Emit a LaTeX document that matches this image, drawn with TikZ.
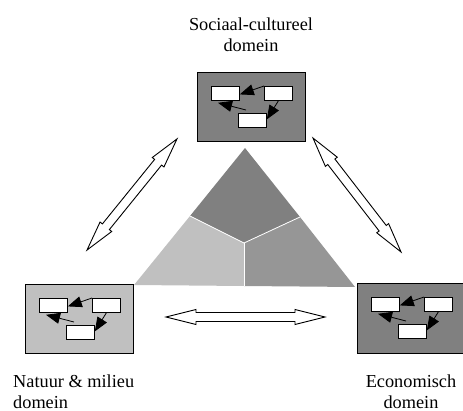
\documentclass[tikz,border=0pt]{standalone}
\usepackage{fontspec}
\setmainfont{Liberation Serif}
\usetikzlibrary{arrows.meta,calc}

\definecolor{domdark}{HTML}{808080}
\definecolor{domlight}{HTML}{C0C0C0}
\definecolor{dommid}{HTML}{969696}

\tikzset{
  domainbox/.style={draw=black, line width=1.2pt},
  minibox/.style={draw=black, fill=white, line width=0.8pt, minimum width=28pt,
    minimum height=14pt, inner sep=0pt, anchor=north west},
  minilink/.style={line width=0.8pt, arrows={-Triangle[length=14pt,width=11pt]}},
  hollow/.style={draw=black, fill=white, line width=0.9pt, line join=miter},
  label/.style={font=\fontsize{18.3}{21.5}\selectfont, inner sep=0pt},
  region/.style={draw=white, line width=0.8pt, line join=miter},
  pics/minimodel/.style={code={
    \node[minibox] (-a) at (14,14) {};
    \node[minibox] (-b) at (67,14) {};
    \node[minibox] (-c) at (41,41) {};
    \draw[minilink] (-b.north west) -- ([yshift=-1pt]-a.east);
    \draw[minilink] ([xshift=8pt,yshift=3pt]-c.north west) -- ([xshift=7pt,yshift=-2pt]-a.south west);
    \draw[minilink] (-b.south) -- ([yshift=1pt]-c.east);
  }},
  pics/hollowarrow/.style={code={
    \draw[hollow] (-#1/2,0) -- (-#1/2+30,7.5) -- (-#1/2+30,4.5) -- (#1/2-30,4.5)
      -- (#1/2-30,7.5) -- (#1/2,0) -- (#1/2-30,-7.5) -- (#1/2-30,-4.5)
      -- (-#1/2+30,-4.5) -- (-#1/2+30,-7.5) -- cycle;
  }}
}

\begin{document}
\begin{tikzpicture}[x=1pt, y=-1pt]
  \useasboundingbox (0,0) rectangle (463,411);

  % central triangle, split into three domains
  \coordinate (apex) at (245,148);
  \coordinate (bl) at (134,285);
  \coordinate (br) at (355,287);
  \coordinate (ml) at (190,216);
  \coordinate (mr) at (300,217);
  \coordinate (mc) at (244,243);
  \coordinate (mb) at (244,286);
  \fill[domdark] (apex) -- (mr) -- (mc) -- (ml) -- cycle;
  \fill[domlight] (ml) -- (mc) -- (mb) -- (bl) -- cycle;
  \fill[dommid] (mr) -- (br) -- (mb) -- (mc) -- cycle;
  \draw[region] (ml) -- (mc) -- (mr);
  \draw[region] (mc) -- (mb);

  % domain boxes
  \node[domainbox, fill=domdark, minimum width=108pt, minimum height=69pt,
    inner sep=0pt, anchor=north west] (soc) at (197,72) {};
  \node[domainbox, fill=domlight, minimum width=108pt, minimum height=69pt,
    inner sep=0pt, anchor=north west] (nat) at (25,284) {};
  \node[domainbox, fill=domdark, minimum width=106pt, minimum height=70pt,
    inner sep=0pt, anchor=north west] (eco) at (357,283) {};

  \pic (socm) at (soc.north west) {minimodel};
  \pic (natm) at (nat.north west) {minimodel};
  \pic (ecom) at (eco.north west) {minimodel};

  % interactions between the domains
  \pic[rotate=51] at (132,194.5) {hollowarrow=143};
  \pic[rotate=-52.3] at (357,195) {hollowarrow=144};
  \pic at (245.5,317) {hollowarrow=159};

  % labels
  \node[label, align=center] (socl) at (251,34.5) {Sociaal-cultureel\\domein};
  \node[label, align=left, anchor=west] (natl) at (13,391.5) {Natuur \& milieu\\domein};
  \node[label, align=center] (ecol) at (411,391.5) {Economisch\\domein};
\end{tikzpicture}
\end{document}
